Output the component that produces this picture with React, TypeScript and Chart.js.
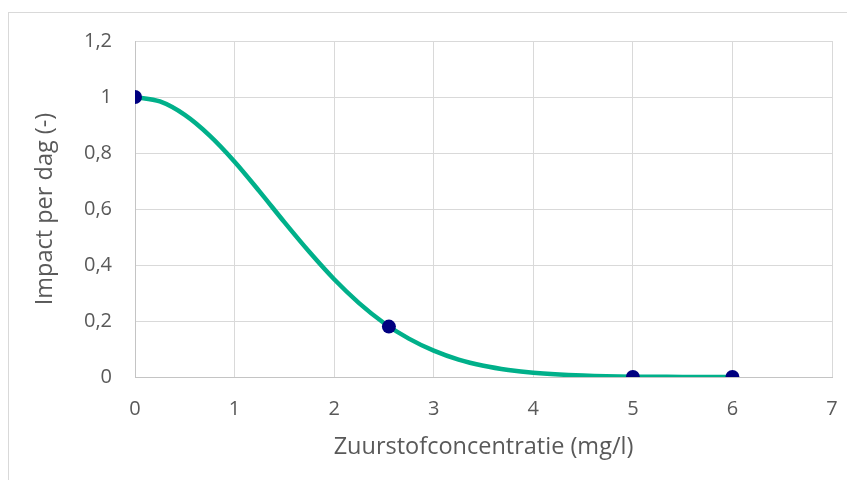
import React, { useEffect, useRef } from "react";
import { Chart, registerables } from "chart.js";

Chart.register(...registerables);

// Curve values (x in mg/l, y impact per day)
const curveX = [0, 0.25, 0.5, 0.75, 1, 1.25, 1.5, 1.75, 2, 2.25, 2.5, 2.75, 3, 3.25, 3.5, 3.75, 4, 4.5, 5, 5.5, 6];
const curveY = [1, 0.984, 0.936, 0.862, 0.769, 0.663, 0.553, 0.447, 0.349, 0.264, 0.193, 0.137, 0.094, 0.062, 0.040, 0.025, 0.015, 0.005, 0.001, 0.0004, 0.0001];

// Marked points
const markerX = [0, 2.55, 5, 6];
const markerY = [1, 0.18, 0, 0];

const xTickLabels = ["0", "1", "2", "3", "4", "5", "6", "7"];
const yTickLabels = ["0", "0,2", "0,4", "0,6", "0,8", "1", "1,2"];

const xTitle = "Zuurstofconcentratie (mg/l)";
const yTitle = "Impact per dag (-)";

const FONT = "'Open Sans', Lato, sans-serif";
const TEXT = "#595959";

export default function App() {
  const ref = useRef<HTMLCanvasElement | null>(null);

  useEffect(() => {
    if (!ref.current) return;
    const chart = new Chart(ref.current, {
      type: "scatter",
      data: {
        datasets: [
          {
            label: "punten",
            data: markerX.map((x, i) => ({ x, y: markerY[i] })),
            showLine: false,
            pointRadius: 7,
            pointHoverRadius: 7,
            pointBackgroundColor: "#000080",
            pointBorderColor: "#000080",
            pointBorderWidth: 0,
            order: 0,
          },
          {
            label: "curve",
            data: curveX.map((x, i) => ({ x, y: curveY[i] })),
            showLine: true,
            borderColor: "#00B08A",
            borderWidth: 4.5,
            pointRadius: 0,
            cubicInterpolationMode: "monotone",
            borderCapStyle: "round",
            order: 1,
          },
        ],
      },
      options: {
        responsive: false,
        animation: false,
        layout: { padding: { top: 28, right: 15, left: 0, bottom: 0 } },
        plugins: { legend: { display: false }, tooltip: { enabled: false } },
        scales: {
          x: {
            type: "linear",
            min: 0,
            max: 7,
            afterFit: (s: any) => {
              s.height = 103;
              s.paddingLeft = 0;
              s.paddingRight = 0;
            },
            ticks: {
              stepSize: 1,
              padding: 20,
              color: TEXT,
              font: { family: FONT, size: 20 },
              callback: (v: any) => xTickLabels[Math.round(Number(v))] ?? "",
            },
            grid: { color: "#d9d9d9", drawTicks: false, lineWidth: 1 },
            border: { color: "#c4c4c4", width: 1 },
            title: {
              display: true,
              text: xTitle,
              color: TEXT,
              font: { family: FONT, size: 23.5 },
              padding: { top: 0, bottom: 19 },
            },
          },
          y: {
            type: "linear",
            min: 0,
            max: 1.2,
            afterFit: (s: any) => {
              s.width = 126;
              s.paddingTop = 0;
              s.paddingBottom = 0;
            },
            ticks: {
              stepSize: 0.2,
              padding: 23,
              color: TEXT,
              font: { family: FONT, size: 20 },
              callback: (v: any) => yTickLabels[Math.round(Number(v) * 5)] ?? "",
            },
            grid: { color: "#d9d9d9", drawTicks: false, lineWidth: 1 },
            border: { color: "#c4c4c4", width: 1 },
            title: {
              display: true,
              text: yTitle,
              color: TEXT,
              font: { family: FONT, size: 23.5 },
              padding: { top: 22, bottom: 0 },
            },
          },
        },
      },
    });
    return () => chart.destroy();
  }, []);

  return (
    <div
      style={{
        marginTop: 4,
        width: 839,
        height: 468,
        boxSizing: "border-box",
        borderLeft: "1px solid #d9d9d9",
        borderTop: "1px solid #d9d9d9",
        background: "#ffffff",
      }}
    >
      <canvas ref={ref} width={838} height={467} style={{ display: "block" }} />
    </div>
  );
}
